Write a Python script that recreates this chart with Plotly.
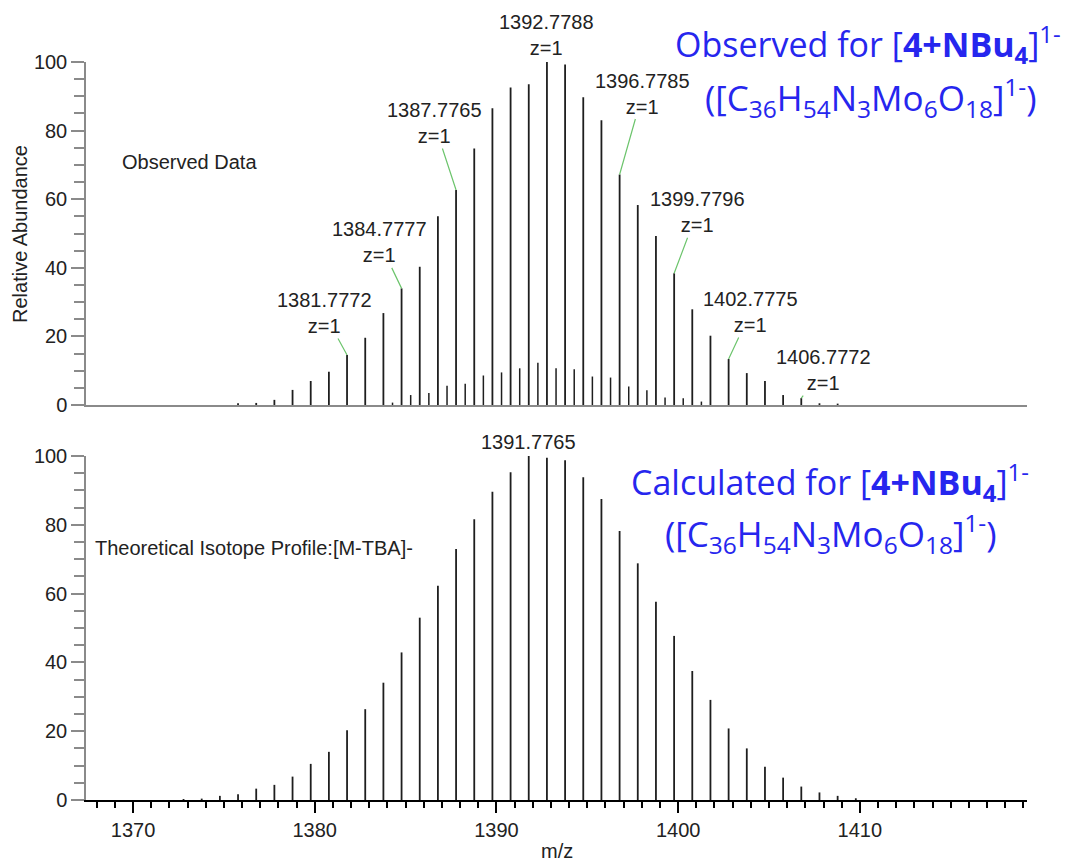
import plotly.graph_objects as go

# ---------------- data ----------------
# Observed spectrum: main isotopologue peaks (m/z, relative abundance)
obs_mz = [1375.778, 1376.778, 1377.778, 1378.778, 1379.778, 1380.778, 1381.777, 1382.778,
          1383.778, 1384.778, 1385.778, 1386.778, 1387.777, 1388.778, 1389.778, 1390.778,
          1391.778, 1392.779, 1393.778, 1394.778, 1395.778, 1396.779, 1397.778, 1398.778,
          1399.780, 1400.778, 1401.778, 1402.778, 1403.778, 1404.778, 1405.778, 1406.777,
          1407.778, 1408.778]
obs_int = [0.5, 0.6, 1.5, 4.4, 7.0, 9.7, 14.6, 19.6,
           26.8, 34.0, 40.3, 55.0, 62.7, 74.8, 86.5, 92.6,
           93.5, 100.0, 99.3, 89.7, 83.0, 67.2, 58.3, 49.3,
           38.4, 27.9, 20.2, 13.4, 9.3, 7.0, 2.9, 2.0,
           0.5, 0.4]

# Observed spectrum: small interleaved peaks
obs_minor_mz = [1384.28, 1385.28, 1386.28, 1387.28, 1388.28, 1389.28, 1390.28, 1391.28,
                1392.28, 1393.28, 1394.28, 1395.28, 1396.28, 1397.28, 1398.28, 1399.28,
                1400.28, 1401.28]
obs_minor_int = [0.7, 2.9, 3.5, 5.6, 6.2, 8.6, 9.5, 10.7,
                 12.3, 10.7, 10.4, 8.3, 8.0, 5.4, 4.3, 2.2,
                 2.0, 1.0]

# Theoretical isotope profile
calc_mz = [1372.778, 1373.778, 1374.778, 1375.778, 1376.778, 1377.778, 1378.778, 1379.778,
           1380.778, 1381.778, 1382.778, 1383.778, 1384.778, 1385.778, 1386.778, 1387.778,
           1388.778, 1389.778, 1390.778, 1391.777, 1392.778, 1393.778, 1394.778, 1395.778,
           1396.778, 1397.778, 1398.778, 1399.778, 1400.778, 1401.778, 1402.778, 1403.778,
           1404.778, 1405.778, 1406.778, 1407.778, 1408.778, 1409.778]
calc_int = [0.3, 0.4, 1.2, 1.7, 3.3, 4.4, 6.8, 10.5,
            14.0, 20.3, 26.4, 34.1, 42.9, 53.0, 62.3, 73.0,
            81.6, 89.6, 95.3, 100.0, 99.5, 98.8, 93.8, 87.5,
            78.2, 68.8, 57.6, 47.7, 37.5, 29.1, 20.8, 15.0,
            9.7, 6.5, 3.9, 2.2, 1.2, 0.5]

# Peak labels (observed panel)
obs_label_text = ["1381.7772", "1384.7777", "1387.7765", "1392.7788",
                  "1396.7785", "1399.7796", "1402.7775", "1406.7772"]
# Peak labels (theoretical panel)
calc_label_text = ["1391.7765"]

x_ticks = [1370, 1380, 1390, 1400, 1410]
y_ticks = [0, 20, 40, 60, 80, 100]

# ---------------- styling ----------------
FONT = "Liberation Sans, Arial, sans-serif"
BLUE = "#2626ee"
GREEN = "#6cc46c"
GRAY = "#8a8a8a"
TXT = "#222222"
W, H = 1078, 863
ML, MR, MT, MB = 86, 51, 50, 40
PW, PH = W - ML - MR, H - MT - MB

def px(xp):
    return (xp - ML) / PW

def py(yp):
    return (H - MB - yp) / PH

# leader offsets (pixels) for the observed labels
label_offsets = [(-23, -42), (-22, -46), (-22, -67), None,
                 (23, -81), (23, -61), (22, -47), (22, -28)]


def sticks(mz, inten):
    xs, ys = [], []
    for m, h in zip(mz, inten):
        xs += [m, m, None]
        ys += [0, h, None]
    return xs, ys


def height_at(mz_list, int_list, value):
    i = min(range(len(mz_list)), key=lambda k: abs(mz_list[k] - value))
    return mz_list[i], int_list[i]


fig = go.Figure()
x1, y1 = sticks(obs_mz, obs_int)
fig.add_trace(go.Scatter(x=x1, y=y1, mode="lines", line=dict(color="#1e1e1e", width=1.8),
                         xaxis="x", yaxis="y", hoverinfo="skip", showlegend=False))
x1m, y1m = sticks(obs_minor_mz, obs_minor_int)
fig.add_trace(go.Scatter(x=x1m, y=y1m, mode="lines", line=dict(color="#1e1e1e", width=1.5),
                         xaxis="x", yaxis="y", hoverinfo="skip", showlegend=False))
x2, y2 = sticks(calc_mz, calc_int)
fig.add_trace(go.Scatter(x=x2, y=y2, mode="lines", line=dict(color="#1e1e1e", width=1.8),
                         xaxis="x2", yaxis="y2", hoverinfo="skip", showlegend=False))

XR = [1367.41, 1419.2]
yaxis_common = dict(range=[0, 100], tickvals=y_ticks, showline=True, linecolor=GRAY, linewidth=1.5,
                    ticks="outside", ticklen=13, tickwidth=1.5, tickcolor=GRAY,
                    minor=dict(ticks="outside", dtick=5, ticklen=10, tickwidth=1.5, tickcolor=GRAY),
                    tickfont=dict(size=20, color=TXT, family=FONT), automargin=False,
                    showgrid=False, zeroline=False, fixedrange=True)

fig.update_layout(
    width=W, height=H,
    margin=dict(l=ML, r=MR, t=MT, b=MB, autoexpand=False),
    paper_bgcolor="white", plot_bgcolor="white",
    font=dict(family=FONT, color=TXT),
    xaxis=dict(domain=[0, 1], range=XR, anchor="y", showline=True, linecolor=GRAY, linewidth=1.5,
               ticks="", showticklabels=False, showgrid=False, zeroline=False, automargin=False),
    yaxis=dict(domain=[py(405), py(62)], anchor="x", **yaxis_common),
    xaxis2=dict(domain=[0, 1], range=XR, anchor="y2", showline=True, linecolor="black", linewidth=2,
                tickvals=x_ticks, ticks="outside", ticklen=11, tickwidth=2, tickcolor="black",
                minor=dict(ticks="outside", dtick=1, tick0=1370, ticklen=6, tickwidth=1.5, tickcolor="black"),
                tickfont=dict(size=20, color=TXT, family=FONT), automargin=False,
                showgrid=False, zeroline=False),
    yaxis2=dict(domain=[py(800), py(456)], anchor="x2", **yaxis_common),
)

LF = dict(size=20, color=TXT, family=FONT)
ann = []
# observed peak labels
for txt, off in zip(obs_label_text, label_offsets):
    m, h = height_at(obs_mz, obs_int, float(txt))
    if off is None:
        ann.append(dict(x=m, y=h, xref="x", yref="y", text=f"{txt}<br>z=1", showarrow=False,
                        yanchor="bottom", yshift=1, font=LF))
    else:
        ann.append(dict(x=m, y=h, xref="x", yref="y", text=f"{txt}<br>z=1", showarrow=True,
                        arrowhead=0, arrowwidth=1.2, arrowcolor=GREEN, ax=off[0], ay=off[1],
                        standoff=0, font=LF))
# theoretical label
for txt in calc_label_text:
    m, h = height_at(calc_mz, calc_int, float(txt))
    ann.append(dict(x=m, y=h, xref="x2", yref="y2", text=txt, showarrow=False,
                    yanchor="bottom", yshift=1, font=LF))

# panel captions
ann.append(dict(x=px(120), y=py(162), xref="paper", yref="paper", text="Observed Data",
                showarrow=False, xanchor="left", yanchor="middle", font=LF))
ann.append(dict(x=px(93), y=py(548), xref="paper", yref="paper",
                text="Theoretical Isotope Profile:[M-TBA]-",
                showarrow=False, xanchor="left", yanchor="middle", font=LF))
# axis titles
ann.append(dict(x=px(20), y=py(234), xref="paper", yref="paper", text="Relative Abundance",
                textangle=-90, showarrow=False, xanchor="center", yanchor="middle", font=LF))
ann.append(dict(x=px(557), y=py(851), xref="paper", yref="paper", text="m/z",
                showarrow=False, xanchor="center", yanchor="middle", font=LF))

# blue titles
BF = dict(size=34, color=BLUE, family="Open Sans, Noto Sans, sans-serif")
BF2 = dict(size=35, color=BLUE, family="Open Sans, Noto Sans, sans-serif")
formula = "([C<sub>36</sub>H<sub>54</sub>N<sub>3</sub>Mo<sub>6</sub>O<sub>18</sub>]<sup>1-</sup>)"
ion = "[<b>4+NBu<sub>4</sub></b>]<sup>1-</sup>"
ann.append(dict(x=px(868), y=py(45), xref="paper", yref="paper",
                text="Observed for " + ion, showarrow=False, xanchor="center", yanchor="middle", font=BF))
ann.append(dict(x=px(871), y=py(97), xref="paper", yref="paper",
                text=formula, showarrow=False, xanchor="center", yanchor="middle", font=BF2))
ann.append(dict(x=px(830), y=py(482), xref="paper", yref="paper",
                text="Calculated for " + ion, showarrow=False, xanchor="center", yanchor="middle", font=BF))
ann.append(dict(x=px(831), y=py(533), xref="paper", yref="paper",
                text=formula, showarrow=False, xanchor="center", yanchor="middle", font=BF2))

fig.update_layout(annotations=ann)
fig.write_html("out.html", config={"displayModeBar": False},
               post_script="document.body.style.margin='0px';")
